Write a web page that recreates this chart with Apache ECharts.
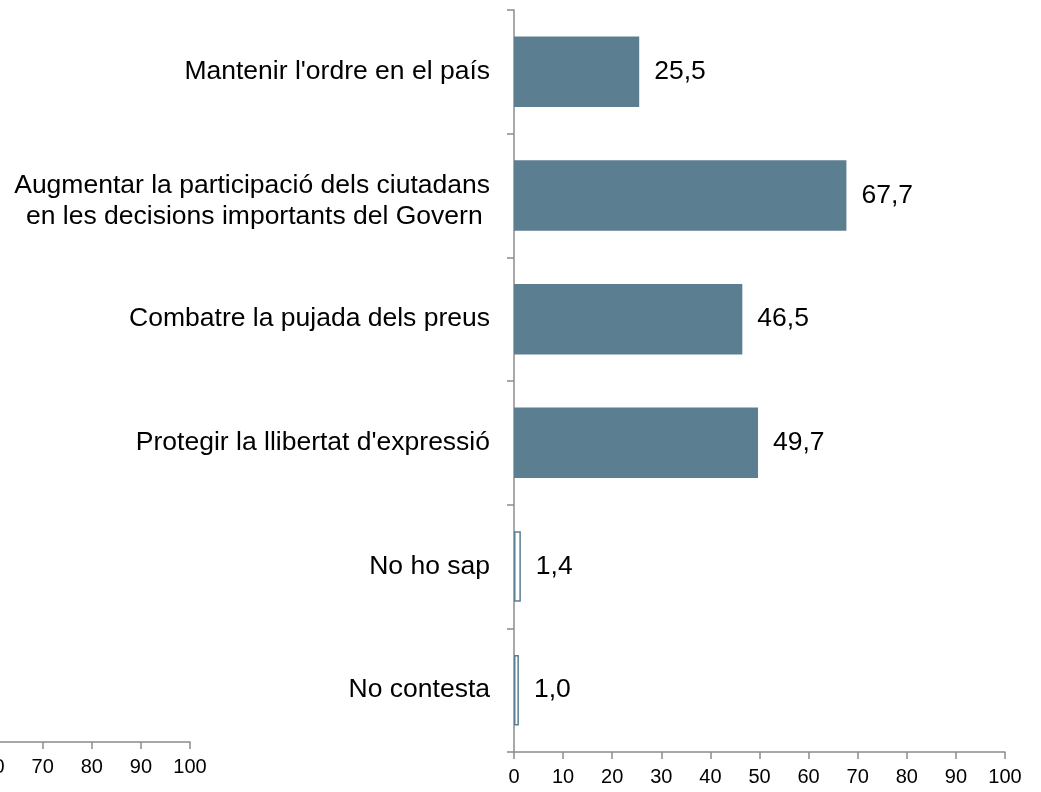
<!DOCTYPE html>
<html>
<head>
<meta charset="utf-8">
<script src="https://cdn.jsdelivr.net/npm/echarts@6/dist/echarts.min.js"></script>
<style>html,body{margin:0;padding:0;background:#fff}#c{width:1041px;height:792px}</style>
</head>
<body>
<div id="c"></div>
<script>
const categories = [
  "Mantenir l'ordre en el país",
  "Augmentar la participació dels ciutadans\nen les decisions importants del Govern ",
  "Combatre la pujada dels preus",
  "Protegir la llibertat d'expressió",
  "No ho sap",
  "No contesta"
];
const values = [25.5, 67.7, 46.5, 49.7, 1.4, 1.0];
const outlined = [false, false, false, false, true, true];
const xTicks = [0, 10, 20, 30, 40, 50, 60, 70, 80, 90, 100];

const barColor = '#5b7e90';
const axisColor = '#8c8c8c';
const font = '"Liberation Sans", Arial, sans-serif';

const chart = echarts.init(document.getElementById('c'), null, {renderer: 'canvas'});
chart.setOption({
  animation: false,
  backgroundColor: '#fff',
  grid: [
    {left: 514, top: 10, right: 36, bottom: 40, containLabel: false, outerBoundsMode: 'none'},
    {left: -301, width: 491, top: 10, bottom: 50, containLabel: false, outerBoundsMode: 'none'}
  ],
  xAxis: [
    {
      gridIndex: 0, type: 'value', min: xTicks[0], max: xTicks[xTicks.length-1], interval: 10,
      splitLine: {show: false},
      axisLine: {show: true, lineStyle: {color: axisColor, width: 1.5}},
      axisTick: {show: true, length: 7, lineStyle: {color: axisColor, width: 1.5}},
      axisLabel: {color: '#000', fontSize: 20, fontFamily: font, margin: 15}
    },
    {
      gridIndex: 1, type: 'value', min: xTicks[0], max: xTicks[xTicks.length-1], interval: 10,
      splitLine: {show: false},
      axisLine: {show: true, lineStyle: {color: axisColor, width: 1.5}},
      axisTick: {show: true, length: 7, lineStyle: {color: axisColor, width: 1.5}},
      axisLabel: {color: '#000', fontSize: 20, fontFamily: font, margin: 15}
    }
  ],
  yAxis: [
    {
      gridIndex: 0, type: 'category', data: categories, inverse: true,
      axisLine: {show: true, lineStyle: {color: axisColor, width: 1.5}},
      axisTick: {show: true, length: 7, lineStyle: {color: axisColor, width: 1.5}},
      axisLabel: {
        color: '#000', fontSize: 26.5, fontFamily: font, margin: 24, lineHeight: 30, align: 'right',
        formatter: v => {
          const lines = v.split('\n');
          if (lines.length < 2) return v;
          return '{f|' + lines[0] + '}\n{s|' + lines.slice(1).join('\n') + '}';
        },
        rich: {
          f: {fontSize: 26.5, fontFamily: font, color: '#000', lineHeight: 30, padding: [10, 0, 0, 0], align: 'right'},
          s: {fontSize: 26.5, fontFamily: font, color: '#000', lineHeight: 30, padding: [12, 0, 0, 0], align: 'right'}
        }
      }
    },
    {
      gridIndex: 1, type: 'category', data: [''], show: false
    }
  ],
  series: [
    {
      type: 'bar', xAxisIndex: 0, yAxisIndex: 0,
      barCategoryGap: '43%',
      data: values.map((v, i) => ({
        value: v,
        itemStyle: outlined[i]
          ? {color: '#ffffff', borderColor: barColor, borderWidth: 1.5}
          : {color: barColor}
      })),
      label: {
        show: true, position: 'right', distance: 15,
        color: '#000', fontSize: 26.5, fontFamily: font,
        formatter: p => p.value.toFixed(1).replace('.', ',')
      }
    }
  ]
});
</script>
</body>
</html>
